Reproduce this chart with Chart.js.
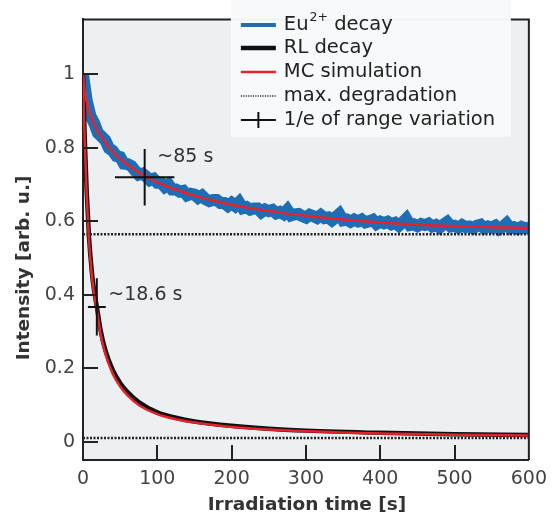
<!DOCTYPE html>
<html>
<head>
<meta charset="utf-8">
<script src="https://cdn.jsdelivr.net/npm/chart.js@4.4.0/dist/chart.umd.min.js"></script>
<style>
  html, body { margin: 0; padding: 0; background: #fff; }
  canvas { display: block; }
</style>
</head>
<body>
<canvas id="myCanvas" width="555" height="517"></canvas>
<script>
// axis ticks
var xTicks = [0, 100, 200, 300, 400, 500, 600];
var yTicks = [0, 0.2, 0.4, 0.6, 0.8, 1];

// Eu2+ decay, one sample every 5 s from 0 to 600 s
var euStep = 5;
var euValues = [
  1.000, 0.929, 0.887, 0.868, 0.841, 0.831, 0.821, 0.799, 0.792, 0.778,
  0.775, 0.757, 0.756, 0.751, 0.738, 0.727, 0.730, 0.722, 0.712, 0.716,
  0.705, 0.705, 0.694, 0.701, 0.687, 0.687, 0.681, 0.683, 0.671, 0.675,
  0.673, 0.664, 0.670, 0.660, 0.655, 0.658, 0.658, 0.650, 0.650, 0.642,
  0.650, 0.642, 0.652, 0.636, 0.639, 0.632, 0.635, 0.635, 0.625, 0.632,
  0.628, 0.631, 0.622, 0.626, 0.620, 0.631, 0.616, 0.619, 0.620, 0.614,
  0.610, 0.618, 0.614, 0.609, 0.617, 0.609, 0.611, 0.603, 0.611, 0.620,
  0.603, 0.605, 0.599, 0.605, 0.600, 0.605, 0.597, 0.600, 0.604, 0.593,
  0.599, 0.595, 0.599, 0.592, 0.596, 0.588, 0.597, 0.607, 0.590, 0.592,
  0.587, 0.593, 0.590, 0.594, 0.586, 0.590, 0.583, 0.591, 0.598, 0.586,
  0.588, 0.583, 0.590, 0.584, 0.586, 0.581, 0.588, 0.591, 0.581, 0.586,
  0.583, 0.588, 0.579, 0.585, 0.594, 0.581, 0.584, 0.579, 0.585, 0.581,
  0.583
];

// MC simulation matching the Eu2+ curve
var euMcTime = [0, 2, 5, 10, 15, 20, 30, 40, 50, 60, 70, 80, 90, 100, 120, 140, 160, 180, 200, 225, 250, 275, 300, 350, 400, 450, 500, 550, 600];
var euMcValues = [1.0, 0.958, 0.925, 0.89, 0.865, 0.845, 0.815, 0.79, 0.77, 0.755, 0.74, 0.727, 0.716, 0.706, 0.69, 0.676, 0.664, 0.654, 0.645, 0.636, 0.628, 0.621, 0.615, 0.605, 0.597, 0.591, 0.587, 0.584, 0.582];

// RL decay and its MC simulation
var rlTime = [0, 1, 2, 3, 5, 8, 12, 15, 18.6, 24, 30, 40, 50, 60, 75, 100, 125, 150, 200, 250, 300, 400, 500, 600];
var rlValues = [1.0, 0.92, 0.85, 0.79, 0.68, 0.56, 0.46, 0.41, 0.368, 0.3, 0.25, 0.195, 0.16, 0.135, 0.108, 0.08, 0.065, 0.055, 0.043, 0.035, 0.03, 0.024, 0.02, 0.018];
var rlMcValues = [1.0, 0.91, 0.84, 0.78, 0.67, 0.55, 0.45, 0.4, 0.36, 0.29, 0.24, 0.185, 0.15, 0.126, 0.1, 0.075, 0.061, 0.052, 0.04, 0.033, 0.028, 0.022, 0.019, 0.017];

// max. degradation levels
var degradeLevels = [0.565, 0.01];

// 1/e markers: [time, value, half width in s, half height]
var euMark = [83, 0.72, 40, 0.077];
var rlMark = [18.6, 0.367, 12, 0.078];
var markLabels = ['~85 s', '~18.6 s'];
var markLabelPos = [[100, 0.775], [34, 0.40]];

var legendItems = ['decay', 'RL decay', 'MC simulation', 'max. degradation', '1/e of range variation'];

function pairs(xs, ys){
    return xs.map(function(x, i){ return {x: x, y: ys[i]}; });
}

function crossSegments(m){
    return [
        {x: m[0] - m[2], y: m[1]}, {x: m[0] + m[2], y: m[1]}, {x: NaN, y: NaN},
        {x: m[0], y: m[1] - m[3]}, {x: m[0], y: m[1] + m[3]}
    ];
}

var BLUE = '#1f6db4';
var RED = '#e3232b';
var BLACK = '#111111';
var FONT = '"DejaVu Sans", "Noto Sans", sans-serif';

var euData = euValues.map(function(v, i){ return {x: i * euStep, y: v}; });

var datasets = [
    {data: crossSegments(euMark), borderColor: BLACK, borderWidth: 2, order: 0, spanGaps: false},
    {data: crossSegments(rlMark), borderColor: BLACK, borderWidth: 2, order: 0, spanGaps: false},
    {data: pairs(euMcTime, euMcValues), borderColor: RED, borderWidth: 2.5, order: 1, cubicInterpolationMode: 'monotone'},
    {data: pairs(rlTime, rlMcValues), borderColor: RED, borderWidth: 2.5, order: 1, cubicInterpolationMode: 'monotone'},
    {data: pairs([0, 600], [degradeLevels[0], degradeLevels[0]]), borderColor: '#222', borderWidth: 2.5, borderDash: [2, 1.5], order: 2},
    {data: pairs([0, 600], [degradeLevels[1], degradeLevels[1]]), borderColor: '#222', borderWidth: 2.5, borderDash: [2, 1.5], order: 2},
    {data: pairs(rlTime, rlValues), borderColor: BLACK, borderWidth: 4.5, order: 3, cubicInterpolationMode: 'monotone'},
    {data: euData, borderColor: BLUE, borderWidth: 12, order: 4, tension: 0, borderJoinStyle: 'miter'}
];
datasets.forEach(function(d){ d.pointRadius = 0; d.fill = false; });

var decor = {
    id: 'decor',
    beforeDraw: function(chart){
        var ctx = chart.ctx, a = chart.chartArea;
        ctx.save();
        ctx.fillStyle = '#ffffff';
        ctx.fillRect(0, 0, chart.width, chart.height);
        ctx.fillStyle = '#edf0f3';
        ctx.fillRect(a.left, a.top, a.right - a.left, a.bottom - a.top);
        ctx.restore();
    },
    afterDatasetsDraw: function(chart){
        var ctx = chart.ctx, a = chart.chartArea;
        var xs = chart.scales.x, ys = chart.scales.y;
        ctx.save();

        // inward ticks
        ctx.strokeStyle = '#222';
        ctx.lineWidth = 2;
        ctx.beginPath();
        yTicks.forEach(function(v){
            var py = Math.round(ys.getPixelForValue(v));
            ctx.moveTo(a.left, py); ctx.lineTo(a.left + 15, py);
        });
        xTicks.slice(1, -1).forEach(function(v){
            var px = Math.round(xs.getPixelForValue(v));
            ctx.moveTo(px, a.bottom); ctx.lineTo(px, a.bottom - 15);
        });
        // top and right frame
        ctx.moveTo(a.left, a.top); ctx.lineTo(a.right, a.top); ctx.lineTo(a.right, a.bottom);
        ctx.stroke();

        // marker labels
        ctx.fillStyle = '#333';
        ctx.font = '19px ' + FONT;
        ctx.textBaseline = 'middle';
        ctx.textAlign = 'left';
        markLabels.forEach(function(t, i){
            ctx.fillText(t, xs.getPixelForValue(markLabelPos[i][0]), ys.getPixelForValue(markLabelPos[i][1]));
        });

        // legend
        var bx = a.right - 298, bw = 280;
        ctx.fillStyle = 'rgba(248,249,250,0.97)';
        ctx.fillRect(bx, 0, bw, 137);
        var lx = a.right - 288, lw = 35, tx = a.right - 245;
        var rows = [25, 48, 72, 96, 120];
        ctx.lineCap = 'butt';
        function seg(y, color, w, dash){
            ctx.beginPath();
            ctx.setLineDash(dash || []);
            ctx.strokeStyle = color; ctx.lineWidth = w;
            ctx.moveTo(lx, y); ctx.lineTo(lx + lw, y); ctx.stroke();
            ctx.setLineDash([]);
        }
        seg(rows[0], BLUE, 4);
        seg(rows[1], BLACK, 4.5);
        seg(rows[2], RED, 2.5);
        seg(rows[3], '#333', 1.5, [1.2, 1.2]);
        seg(rows[4], BLACK, 2);
        ctx.beginPath();
        ctx.moveTo(lx + lw / 2, rows[4] - 8); ctx.lineTo(lx + lw / 2, rows[4] + 8); ctx.stroke();

        ctx.fillStyle = '#222';
        ctx.font = '19.5px ' + FONT;
        ctx.textBaseline = 'middle';
        ctx.fillText('Eu', tx, rows[0]);
        var w = ctx.measureText('Eu').width;
        ctx.font = '12.5px ' + FONT;
        ctx.fillText('2+', tx + w + 1, rows[0] - 7);
        var w2 = ctx.measureText('2+').width;
        ctx.font = '19.5px ' + FONT;
        ctx.fillText(' ' + legendItems[0], tx + w + w2 + 1, rows[0]);
        for (var i = 1; i < legendItems.length; i++){
            ctx.fillText(legendItems[i], tx, rows[i]);
        }

        // axis titles
        ctx.fillStyle = '#333';
        ctx.font = 'bold 18.5px ' + FONT;
        ctx.textAlign = 'center';
        ctx.fillText('Irradiation time [s]', 307, 505);
        ctx.translate(24, 268);
        ctx.rotate(-Math.PI / 2);
        ctx.fillText('Intensity [arb. u.]', 0, 0);

        ctx.restore();
    }
};

var ctx = document.getElementById('myCanvas').getContext('2d');
var myChart = new Chart(ctx, {
    type: 'line',
    data: {datasets: datasets},
    options: {
        responsive: false,
        animation: false,
        layout: {padding: {top: 18, right: 20, left: 0, bottom: 0}},
        plugins: {legend: {display: false}, tooltip: {enabled: false}},
        scales: {
            x: {
                type: 'linear', min: 0, max: 600,
                afterBuildTicks: function(s){ s.ticks = xTicks.map(function(v){ return {value: v}; }); },
                afterFit: function(s){ s.height = 57; },
                grid: {display: true, drawOnChartArea: false, drawTicks: false},
                border: {display: true, color: '#222', width: 2},
                ticks: {color: '#444', padding: 8, maxRotation: 0, font: {size: 19, family: FONT},
                    callback: function(v){ return String(v); }}
            },
            y: {
                type: 'linear', min: -0.05, max: 1.15,
                afterBuildTicks: function(s){ s.ticks = yTicks.map(function(v){ return {value: v}; }); },
                afterFit: function(s){ s.width = 83; },
                grid: {display: true, drawOnChartArea: false, drawTicks: false},
                border: {display: true, color: '#222', width: 2},
                ticks: {color: '#444', padding: 8, font: {size: 19, family: FONT},
                    callback: function(v){ return String(Math.round(v * 10) / 10); }}
            }
        }
    },
    plugins: [decor]
});
</script>
</body>
</html>
